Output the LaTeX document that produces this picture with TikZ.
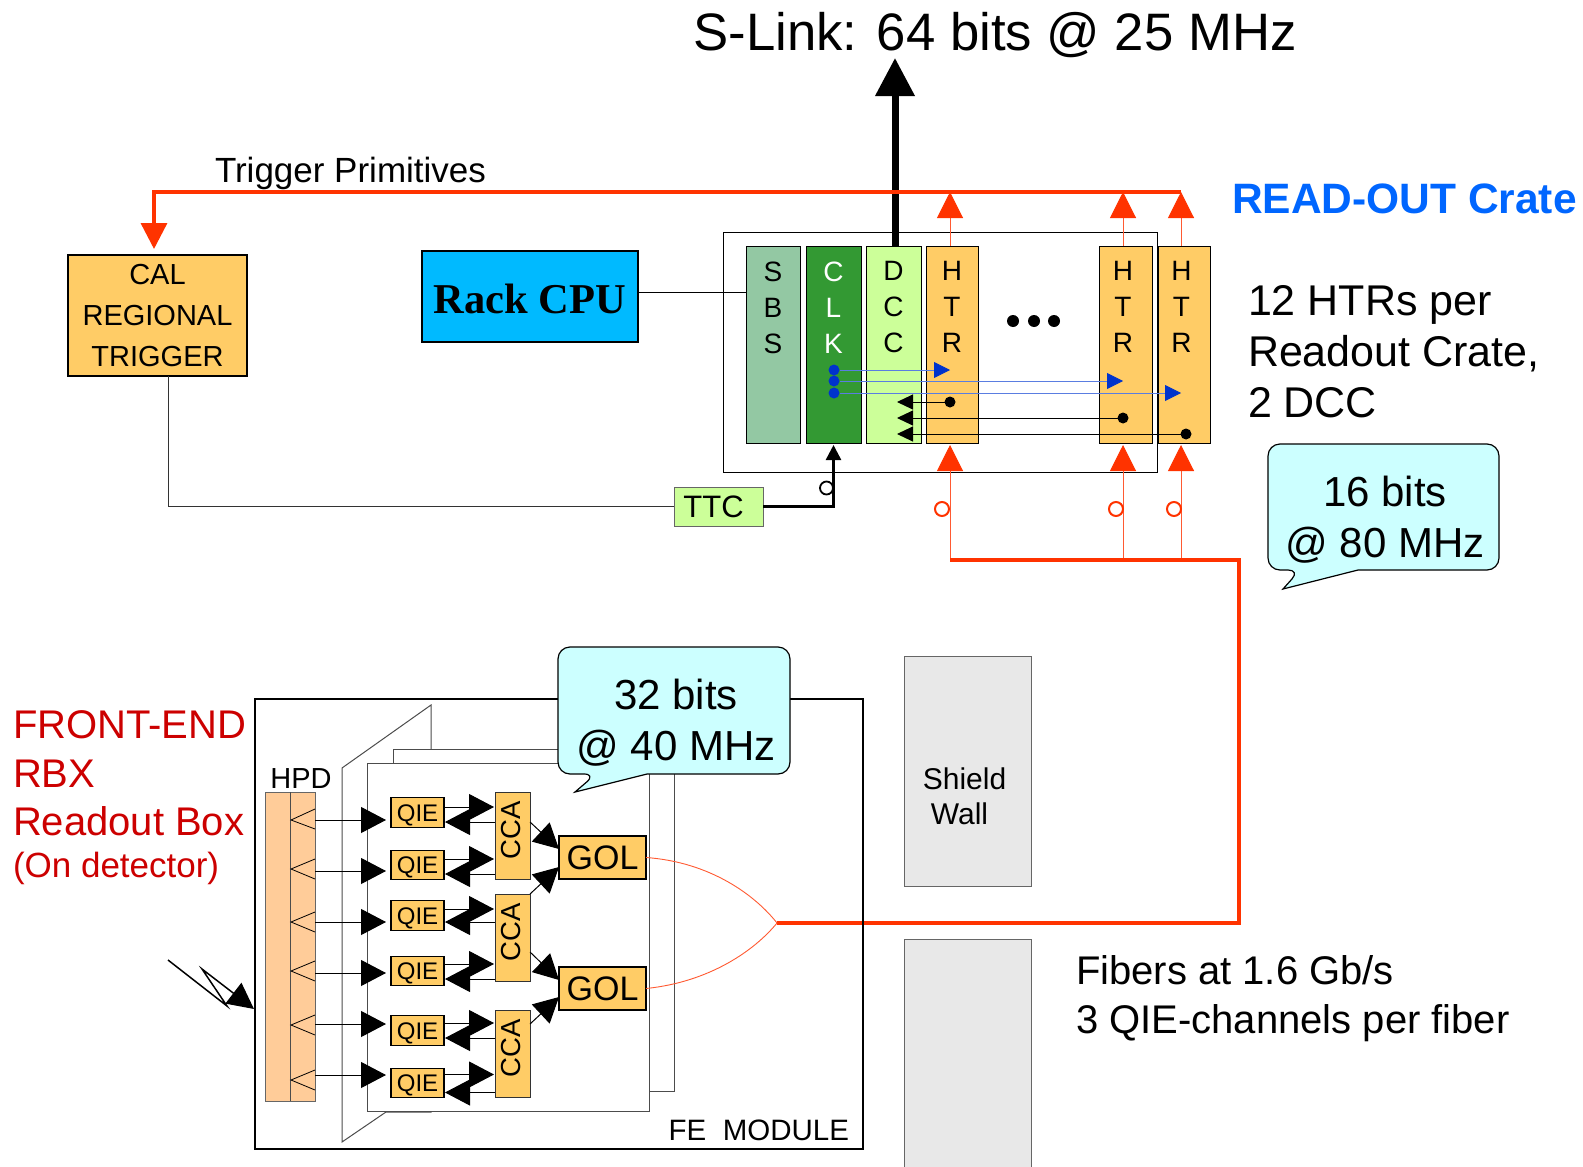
\documentclass[tikz,border=0pt]{standalone}
\usepackage{fontspec}
\usepackage{xcolor}
\usepackage{tikz}
\usetikzlibrary{arrows.meta, positioning, calc}
\setmainfont{Liberation Sans}
\newfontfamily\rackfont{Liberation Serif}
\newcommand{\fsz}[2]{\fontsize{#1}{#2}\selectfont}
\newcommand{\cardtext}[1]{\parbox[c][190pt][t]{40pt}{\centering\vspace*{12pt}#1}}
\newcommand{\qietext}{\raisebox{-8.5pt}[0pt][0pt]{QIE}}
\definecolor{rogreen}{RGB}{147,200,163}
\definecolor{rodark}{RGB}{51,153,51}
\definecolor{rolime}{RGB}{204,255,153}
\definecolor{roorange}{RGB}{255,204,102}
\definecolor{ropeach}{RGB}{255,204,153}
\definecolor{rocpu}{RGB}{0,186,255}
\definecolor{rocyan}{RGB}{204,255,255}
\definecolor{rored}{RGB}{255,51,0}
\definecolor{rofine}{RGB}{255,90,50}
\definecolor{roblue}{RGB}{0,51,204}
\definecolor{rolight}{RGB}{90,125,225}
\definecolor{rohead}{RGB}{0,102,255}
\definecolor{rotext}{RGB}{204,0,0}
\definecolor{roshield}{RGB}{232,232,232}

\begin{document}
\begin{tikzpicture}[
    x=1pt, y=-1pt,
    every node/.style={inner sep=0pt, outer sep=0pt},
    card/.style={rectangle, draw=black, line width=0.9pt, minimum height=197pt, font=\fsz{28}{36}},
    qie/.style={rectangle, draw=black, line width=1.2pt, fill=roorange, minimum width=53pt, minimum height=29.5pt, font=\fsz{24}{26}},
    cca/.style={rectangle, draw=black!80, line width=0.8pt, fill=roorange, minimum width=35pt, minimum height=87pt, font=\fsz{27.5}{29}},
    gol/.style={rectangle, draw=black, line width=1.2pt, fill=roorange, minimum width=87pt, minimum height=43pt, font=\fsz{34}{36}},
    shield/.style={rectangle, draw=black!60, line width=0.8pt, fill=roshield, minimum width=127pt},
    label/.style={align=left, anchor=north west, font=\fsz{43}{51}},
    bubble/.style={draw=black, line width=1.2pt, fill=rocyan, rounded corners=12pt},
    board/.style={draw=black!70, line width=1pt, fill=white},
    bigarrow/.style={-{Triangle[length=25pt,width=26pt]}, line width=1pt, color=black, shorten >=1pt},
    smallarrow/.style={-{Triangle[length=16pt,width=15pt]}, line width=1pt, color=black},
    bluearrow/.style={-{Triangle[length=16pt,width=16pt,color=roblue]}, line width=0.8pt, color=rolight},
    redarrow/.style={-{Triangle[length=26pt,width=26pt,color=rored]}, line width=1pt, color=rofine},
    redbus/.style={line width=3.4pt, color=rored},
    bluedot/.style={circle, fill=roblue, minimum size=11pt},
    blackdot/.style={circle, fill=black, minimum size=11pt},
    redring/.style={circle, draw=rored, line width=2pt, fill=white, minimum size=14pt}
]
\useasboundingbox (0,0) rectangle (1583,1167);

% read-out crate
\node[rectangle, draw=black, line width=0.9pt, minimum width=434pt, minimum height=240pt] (crate) at (940,352) {};
\node[card, fill=rogreen, minimum width=54pt] (sbs) at (773,344.5) {\cardtext{S\\B\\S}};
\node[card, fill=rodark, minimum width=55pt, right=6pt of sbs, text=white] (clk) {\cardtext{C\\L\\K}};
\node[card, fill=rolime, minimum width=55pt, right=5pt of clk] (dcc) {\cardtext{D\\C\\C}};
\node[card, fill=roorange, minimum width=52pt, right=5pt of dcc] (htra) {\cardtext{H\\T\\R}};
\node[card, fill=roorange, minimum width=53pt, right=121pt of htra] (htrb) {\hspace*{-5pt}\cardtext{H\\T\\R}};
\node[card, fill=roorange, minimum width=52pt, right=6pt of htrb] (htrc) {\hspace*{-5pt}\cardtext{H\\T\\R}};
\fill (1013,321) circle (6pt) (1034,321) circle (6pt) (1054,321) circle (6pt);

\node[rectangle, draw=black, line width=1.2pt, fill=rocpu, minimum width=216pt, minimum height=91pt, font=\rackfont\bfseries\fsz{42.5}{44}] (rack) at (530,296.5) {\raisebox{-16.5pt}[0pt][0pt]{Rack CPU}};
\node[rectangle, draw=black, line width=1.2pt, fill=roorange, minimum width=179pt, minimum height=121pt, align=center, font=\fsz{29}{41}] (cal) at (157.5,315.5) {CAL\\REGIONAL\\TRIGGER};
\node[rectangle, draw=black!60, line width=0.8pt, fill=rolime, minimum width=89pt, minimum height=39pt, font=\fsz{31}{33}] (ttc) at (718.5,506.5) {\hspace*{-10pt}TTC};

\node[font=\fsz{52.7}{56}] (slink) at (995,35) {S-Link: 64 bits\ @\ 25 MHz};
\node[font=\fsz{35}{37}, anchor=west] (trig) at (215,173) {Trigger Primitives};
\node[font=\bfseries\fsz{42.5}{44}, text=rohead, anchor=west] (crateh) at (1232,199) {READ-OUT Crate};
\node[label] (perhtr) at (1248,285) {12 HTRs per\\Readout Crate,\\2 DCC};

\coordinate (slinktip) at (895,58);
\coordinate (busend) at (1181,192);
\coordinate (buscal) at (154,192);
\coordinate (fibera) at (950,560);
\coordinate (fiberb) at (1123,560);
\coordinate (fiberc) at (1181,560);
\coordinate (fiberbend) at (1239,560);
\coordinate (fiberjoin) at (777,923);
\coordinate (dcctip) at (897,418);

\draw[-{Triangle[length=38pt,width=38pt]}, line width=7pt] ([xshift=1.5pt]dcc.north) -- (slinktip);
\draw[redbus, -{Triangle[length=26pt,width=26pt]}, shorten >=6pt] (busend) -- (buscal) -- (cal.north -| buscal);
\draw[redarrow] (fibera |- htra.north) -- (fibera |- busend);
\draw[redarrow] (fiberb |- htrb.north) -- (fiberb |- busend);
\draw[redarrow] (fiberc |- htrc.north) -- (busend);
\draw[redarrow, shorten >=2pt] (fibera) -- (fibera |- htra.south);
\draw[redarrow, shorten >=2pt] (fiberb) -- (fiberb |- htrb.south);
\draw[redarrow, shorten >=2pt] (fiberc) -- (fiberc |- htrc.south);
\draw[redbus] (fiberjoin) -| (fiberbend) -- (fibera);
\node[redring] (ringa) at (942,509) {};
\node[redring] (ringb) at (1116,509) {};
\node[redring] (ringc) at (1174,509) {};

\draw[line width=1.2pt] ([yshift=4pt]rack.east) -- ([yshift=4pt]rack.east -| sbs.west);
\draw[line width=0.8pt, draw=black!80] ([xshift=10.5pt]cal.south) |- (ttc.west);
\draw[-{Triangle[length=15pt,width=15pt]}, line width=2.5pt, shorten >=2pt] (ttc.east) -| (clk.south);
\node[circle, draw=black, line width=1.8pt, fill=white, minimum size=13pt] (ttcring) at (826.5,488) {};

% clock and data lines in the crate
\node[bluedot] (clka) at (834,370) {};
\node[bluedot] (clkb) at (834,381) {};
\node[bluedot] (clkc) at (834,393) {};
\node[blackdot] (dota) at (950,402) {};
\node[blackdot] (dotb) at (1123,418) {};
\node[blackdot] (dotc) at (1186,434) {};
\draw[bluearrow] (clka) -- (clka -| fibera);
\draw[bluearrow] (clkb) -- (clkb -| fiberb);
\draw[bluearrow] (clkc) -- (clkc -| fiberc);
\draw[smallarrow] (dota) -- (dota -| dcctip);
\draw[smallarrow] (dotb) -- (dotb -| dcctip);
\draw[smallarrow] (dotc) -- (dotc -| dcctip);

\draw[bubble] (1268,500) -- (1268,570) -- (1300,570) [sharp corners] -- (1283,589) -- (1358,570) [rounded corners=12pt] -- (1499,570) -- (1499,444) -- (1268,444) -- cycle;
\node[align=center, font=\fsz{42}{51}] (bubhtr) at (1385,520) {16 bits\\@ 80 MHz};

% front-end module
\node[rectangle, draw=black, line width=1.6pt, minimum width=608pt, minimum height=450pt] (fem) at (559,924) {};
\node[anchor=south east, font=\fsz{29.5}{31}] (femlab) at (849,1141) {FE\ \ MODULE};
\draw[board] (342,768) -- (431,705) -- (431,1112) -- (386,1112) -- (342,1142) -- cycle;
\draw[board] (393,749) -- (674,749) -- (674,1091) -- (393,1091) -- cycle;
\node[rectangle, draw=black!70, line width=1pt, fill=white, minimum width=282pt, minimum height=348pt] (front) at (508,937) {};

\node[rectangle, draw=black!60, line width=0.8pt, fill=ropeach, minimum width=50pt, minimum height=309pt] (hpd) at (290,946.5) {};
\node[above=4pt of hpd.north, xshift=11pt, font=\fsz{29}{31}] (hpdlab) {HPD};
\draw[line width=1pt, draw=black!70] (hpd.north) -- (hpd.south);
\draw[line width=0.8pt] (315,809) -- (291,820) -- (315,829);
\draw[line width=0.8pt] (315,859) -- (291,869) -- (315,879);
\draw[line width=0.8pt] (315,912) -- (291,922) -- (315,932);
\draw[line width=0.8pt] (315,961) -- (291,971) -- (315,981);
\draw[line width=0.8pt] (315,1015) -- (291,1025) -- (315,1035);
\draw[line width=0.8pt] (315,1070) -- (291,1080) -- (315,1090);

\node[qie] (qiea) at (417.5,812.5) {\qietext};
\node[qie, below=23pt of qiea] (qieb) {\qietext};
\node[qie, below=21pt of qieb] (qiec) {\qietext};
\node[qie, below=26pt of qiec] (qied) {\qietext};
\node[qie, below=30pt of qied] (qiee) {\qietext};
\node[qie, below=23pt of qiee] (qief) {\qietext};
\node[cca] (ccaa) at (512.5,835.5) {\hspace*{-2pt}\rotatebox{90}{\hspace*{10pt}CCA}};
\node[cca, below=15pt of ccaa] (ccab) {\hspace*{-2pt}\rotatebox{90}{\hspace*{10pt}CCA}};
\node[cca, below=29pt of ccab] (ccac) {\hspace*{-2pt}\rotatebox{90}{\hspace*{10pt}CCA}};
\node[gol] (gola) at (602.5,857.5) {GOL};
\node[gol, below=88pt of gola] (golb) {GOL};

% hpd to qie
\coordinate (hpda) at (315,820);
\coordinate (hpdb) at (315,871);
\coordinate (hpdc) at (315,922);
\coordinate (hpdd) at (315,973);
\coordinate (hpde) at (315,1024);
\coordinate (hpdf) at (315,1075);
\draw[bigarrow, shorten >=5pt] (hpda) -- (hpda -| qiea.west);
\draw[bigarrow, shorten >=5pt] (hpdb) -- (hpdb -| qieb.west);
\draw[bigarrow, shorten >=5pt] (hpdc) -- (hpdc -| qiec.west);
\draw[bigarrow, shorten >=5pt] (hpdd) -- (hpdd -| qied.west);
\draw[bigarrow, shorten >=5pt] (hpde) -- (hpde -| qiee.west);
\draw[bigarrow, shorten >=5pt] (hpdf) -- (hpdf -| qief.west);

% qie to cca and back
\draw[bigarrow] ([yshift=5.5pt]qiea.east) -- ([yshift=5.5pt]qiea.east -| ccaa.west);
\draw[bigarrow] ([yshift=-9.5pt]qiea.east -| ccaa.west) -- ([yshift=-9.5pt]qiea.east);
\draw[bigarrow] ([yshift=6pt]qieb.east) -- ([yshift=6pt]qieb.east -| ccaa.west);
\draw[bigarrow] ([yshift=-9pt]qieb.east -| ccaa.west) -- ([yshift=-9pt]qieb.east);
\draw[bigarrow] ([yshift=6.5pt]qiec.east) -- ([yshift=6.5pt]qiec.east -| ccab.west);
\draw[bigarrow] ([yshift=-6.5pt]qiec.east -| ccab.west) -- ([yshift=-6.5pt]qiec.east);
\draw[bigarrow] ([yshift=7pt]qied.east) -- ([yshift=7pt]qied.east -| ccab.west);
\draw[bigarrow] ([yshift=-8pt]qied.east -| ccab.west) -- ([yshift=-8pt]qied.east);
\draw[bigarrow] ([yshift=7.5pt]qiee.east) -- ([yshift=7.5pt]qiee.east -| ccac.west);
\draw[bigarrow] ([yshift=-7.5pt]qiee.east -| ccac.west) -- ([yshift=-7.5pt]qiee.east);
\draw[bigarrow] ([yshift=8.5pt]qief.east) -- ([yshift=8.5pt]qief.east -| ccac.west);
\draw[bigarrow] ([yshift=-9.5pt]qief.east -| ccac.west) -- ([yshift=-9.5pt]qief.east);

% cca to gol
\draw[bigarrow, shorten >=0pt] ([yshift=13.5pt]ccaa.east) -- ([yshift=8.5pt]gola.west);
\draw[bigarrow, shorten >=0pt] (ccab.north east) -- ([yshift=-9.5pt]gola.west);
\draw[bigarrow, shorten >=0pt] ([yshift=-14.5pt]ccab.east) -- ([yshift=8.5pt]golb.west);
\draw[bigarrow, shorten >=0pt] ([yshift=-14pt]ccac.north east) -- ([yshift=-8.5pt]golb.west);

\draw[line width=0.9pt, color=rofine] (gola.east) .. controls (710,862) and (755,895) .. (fiberjoin);
\draw[line width=0.9pt, color=rofine] (golb.east) .. controls (710,982) and (755,950) .. (fiberjoin);

% incoming light
\coordinate (raya) at (168,960);
\coordinate (rayb) at (227,1006);
\coordinate (rayc) at (202,969);
\coordinate (raytip) at (254,1009);
\draw[-{Triangle[length=26pt,width=26pt]}, line width=1.5pt] (raya) -- (rayb) -- (rayc) -- (raytip);

\draw[bubble] (558,710) -- (558,774) -- (596,774) [sharp corners] -- (575,792) -- (647,774) [rounded corners=12pt] -- (790,774) -- (790,647) -- (558,647) -- cycle;
\node[align=center, font=\fsz{42}{51}] (bubfem) at (676,723) {32 bits\\@ 40 MHz};

% walls and remaining text
\node[shield, minimum height=230pt, align=center, font=\fsz{30}{35}] (walla) at (967.5,771) {\mbox{}\\[37pt]\hspace*{-6pt}Shield\\\hspace*{-16pt}Wall};
\node[shield, minimum height=228pt, below=53pt of walla] (wallb) {};
\node[label, text=rotext, font=\fsz{40}{48.5}] (rbx) at (13,711) {FRONT-END\\RBX\\Readout Box};
\node[below=16pt of rbx.south west, anchor=north west, text=rotext, font=\fsz{35}{37}] (rbxon) {(On detector)};
\node[label, font=\fsz{40}{48.5}] (fibtext) at (1076,956) {Fibers at 1.6 Gb/s\\3 QIE-channels per fiber};
\end{tikzpicture}
\end{document}
